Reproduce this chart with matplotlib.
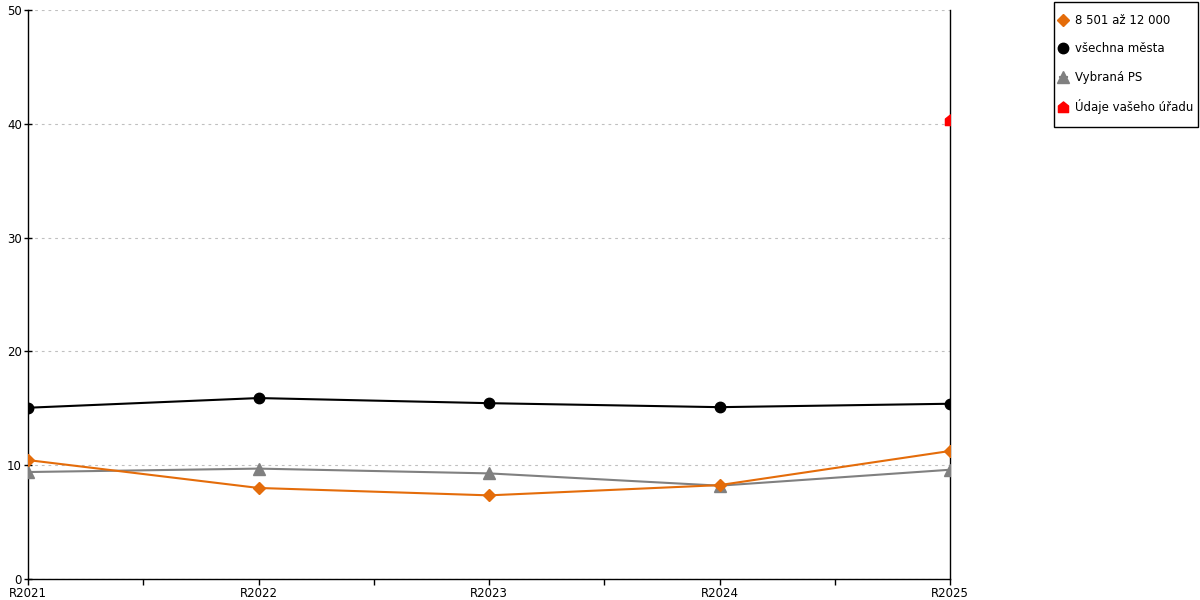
import matplotlib
matplotlib.use("Agg")
import matplotlib.pyplot as plt
from matplotlib.path import Path
from matplotlib.patches import Rectangle
from matplotlib.ticker import MultipleLocator

categories = ["R2021", "R2022", "R2023", "R2024", "R2025"]
orange_vals = [10.45, 8.0, 7.35, 8.25, 11.25]
black_vals = [15.05, 15.9, 15.45, 15.1, 15.4]
gray_vals = [9.4, 9.7, 9.28, 8.2, 9.6]
office_vals = [None, None, None, None, 40.35]

labels = ["8 501 až 12 000", "všechna města", "Vybraná PS", "Údaje vašeho úřadu"]

plt.rcParams['font.family'] = ['DejaVu Sans']

W, H = 1200, 600
fig = plt.figure(figsize=(12, 6), dpi=100)
ax = fig.add_axes([28/W, 21/H, (950-28)/W, (579-10)/H])

x = list(range(len(categories)))

house = Path([(-1, -1), (1, -1), (1, 0.3), (0, 1.1), (-1, 0.3), (-1, -1)],
             [Path.MOVETO, Path.LINETO, Path.LINETO, Path.LINETO, Path.LINETO, Path.CLOSEPOLY])

ax.plot(x, orange_vals, color="#E46C0A", lw=1.5, marker="D", ms=6, label=labels[0], zorder=4)
ax.plot(x, black_vals, color="#000000", lw=1.5, marker="o", ms=7.5, label=labels[1], zorder=4)
ax.plot(x, gray_vals, color="#808080", lw=1.5, marker="^", ms=9, label=labels[2], zorder=3)
ox = [xi for xi, v in zip(x, office_vals) if v is not None]
oy = [v for v in office_vals if v is not None]
ax.plot(ox, oy, color="#FF0000", lw=0, marker=house, ms=8, label=labels[3], zorder=5)

ax.set_xlim(0, len(categories) - 1)
ax.set_ylim(0, 50)
ax.yaxis.set_major_locator(MultipleLocator(10))
ax.set_xticks(x)
ax.set_xticklabels(categories)
ax.set_xticks([i + 0.5 for i in x[:-1]], minor=True)

ax.grid(axis="y", color="#C0C0C0", linestyle=(0, (2.5, 3.5)), lw=0.8)
ax.set_axisbelow(True)

ax.spines["top"].set_visible(False)
for s in ["left", "right", "bottom"]:
    ax.spines[s].set_color("black")
    ax.spines[s].set_linewidth(1)

ax.tick_params(axis="x", which="both", direction="out", length=4.3, width=1, labelsize=8.5, pad=1.5)
ax.tick_params(axis="y", which="major", direction="inout", length=6, width=1, labelsize=8.5, pad=1.5)

# legend frame drawn manually
fig.patches.append(Rectangle((1054/W, 1 - 127/H), (1198-1054)/W, (127-2)/H,
                             transform=fig.transFigure, fill=False, edgecolor="black", lw=1))
leg = fig.legend(loc="upper left", bbox_to_anchor=(1059.5/W, 1 - 14/H), frameon=False,
                 fontsize=8.5, labelspacing=1.3, handlelength=0.6, handletextpad=0.72,
                 borderpad=0, borderaxespad=0, markerscale=1.0)

fig.savefig("out.png", dpi=100)
